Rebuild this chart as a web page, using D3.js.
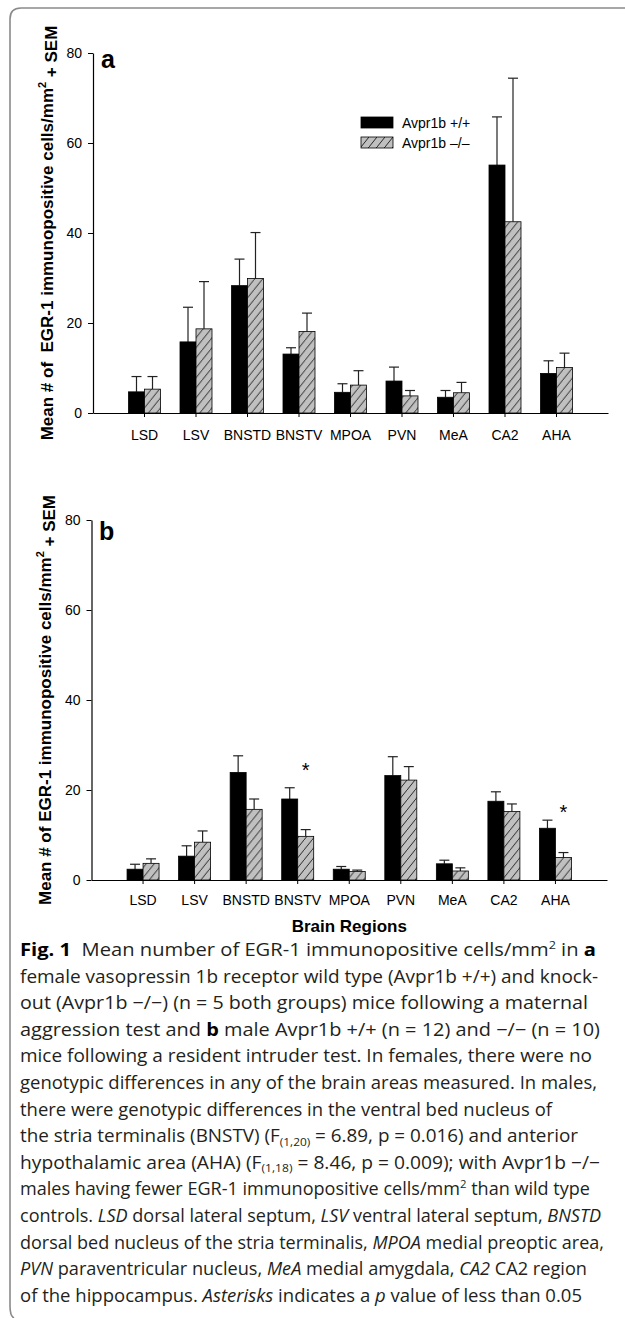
<!DOCTYPE html>
<html>
<head>
<meta charset="utf-8">
<script src="https://cdn.jsdelivr.net/npm/d3@7"></script>
<style>
  body { margin: 0; background: #fff; }
  svg { display: block; }
  .chart text { font-family: "Liberation Sans", Arial, sans-serif; fill: #000; }
  .caption text { font-family: "Open Sans", sans-serif; fill: #231f20; white-space: pre; }
</style>
</head>
<body>
<script>
// Brain regions on the x axis
const regions = ['LSD', 'LSV', 'BNSTD', 'BNSTV', 'MPOA', 'PVN', 'MeA', 'CA2', 'AHA'];
const yTicks = [0, 20, 40, 60, 80];
const seriesNames = ['Avpr1b +/+', 'Avpr1b \u2013/\u2013'];

// Panel a: females (mean and SEM)
const femaleWT = [4.7, 15.8, 28.3, 13.1, 4.6, 7.1, 3.5, 55.1, 8.8];
const femaleWTsem = [3.4, 7.7, 5.9, 1.4, 1.9, 3.1, 1.5, 10.7, 2.8];
const femaleKO = [5.3, 18.7, 29.9, 18.1, 6.2, 3.8, 4.5, 42.5, 10.1];
const femaleKOsem = [2.8, 10.5, 10.2, 4.1, 3.2, 1.2, 2.3, 31.9, 3.2];

// Panel b: males (mean and SEM)
const maleWT = [2.4, 5.3, 23.9, 18.0, 2.4, 23.2, 3.6, 17.5, 11.5];
const maleWTsem = [1.1, 2.3, 3.7, 2.5, 0.6, 4.2, 0.8, 2.1, 1.8];
const maleKO = [3.7, 8.4, 15.7, 9.7, 1.9, 22.2, 2.0, 15.2, 5.0];
const maleKOsem = [1.0, 2.5, 2.3, 1.5, 0.3, 3.0, 0.7, 1.7, 1.1];

// Significant differences in panel b (asterisk height in data units)
const sigRegions = ['BNSTV', 'AHA'];
const sigLevels = [25.3, 16.1];

const svg = d3.select('body').append('svg')
  .attr('width', 625)
  .attr('height', 1318);

// hatch pattern for the knockout bars
const pat = svg.append('defs').append('pattern')
  .attr('id', 'hatch')
  .attr('patternUnits', 'userSpaceOnUse')
  .attr('width', 8)
  .attr('height', 10);
pat.append('rect').attr('width', 8).attr('height', 10).attr('fill', '#c0c0c0');
pat.append('path')
  .attr('d', 'M-2,12.5 L10,-2.5')
  .attr('stroke', '#000')
  .attr('stroke-width', 0.8);

// frame around the figure
svg.append('path')
  .attr('d', 'M625,8 L21,8 Q10,8 10,19 L10,1306 Q10,1316 14,1318')
  .attr('fill', 'none')
  .attr('stroke', '#8a8a8a')
  .attr('stroke-width', 1.6);

const chart = svg.append('g').attr('class', 'chart');

function drawPanel(cfg) {
  const g = chart.append('g');

  const x = d3.scaleBand()
    .domain(regions)
    .range([cfg.left, cfg.right])
    .paddingInner(0)
    .paddingOuter(0.5);
  const sub = d3.scaleBand()
    .domain([0, 1])
    .range([(x.bandwidth() - 32) / 2, (x.bandwidth() + 32) / 2]);
  const y = d3.scaleLinear().domain([0, 80]).range([cfg.zero, cfg.top]);

  const rows = regions.map((r, i) => ({
    region: r,
    vals: [
      { k: 0, mean: cfg.wt[i], sem: cfg.wtSem[i] },
      { k: 1, mean: cfg.ko[i], sem: cfg.koSem[i] },
    ],
  }));

  const groups = g.selectAll('.grp')
    .data(rows)
    .enter()
    .append('g')
    .attr('transform', (d) => `translate(${x(d.region)},0)`);

  const bars = groups.selectAll('.bar')
    .data((d) => d.vals)
    .enter()
    .append('g');

  // error bars (upper half only)
  bars.append('line')
    .attr('x1', (d) => sub(d.k) + sub.bandwidth() / 2)
    .attr('x2', (d) => sub(d.k) + sub.bandwidth() / 2)
    .attr('y1', (d) => y(d.mean))
    .attr('y2', (d) => y(d.mean + d.sem))
    .attr('stroke', '#222')
    .attr('stroke-width', 1.2);
  bars.append('line')
    .attr('x1', (d) => sub(d.k) + sub.bandwidth() / 2 - 5)
    .attr('x2', (d) => sub(d.k) + sub.bandwidth() / 2 + 5)
    .attr('y1', (d) => y(d.mean + d.sem))
    .attr('y2', (d) => y(d.mean + d.sem))
    .attr('stroke', '#222')
    .attr('stroke-width', 1.2);

  bars.append('rect')
    .attr('x', (d) => sub(d.k))
    .attr('y', (d) => y(d.mean))
    .attr('width', sub.bandwidth())
    .attr('height', (d) => y(0) - y(d.mean))
    .attr('fill', (d) => (d.k === 0 ? '#000' : 'url(#hatch)'))
    .attr('stroke', '#000')
    .attr('stroke-width', 0.8);

  // axes
  const yAxis = g.append('g')
    .attr('transform', `translate(${cfg.left},0)`)
    .call(d3.axisLeft(y).tickValues(yTicks).tickSize(5).tickPadding(6).tickSizeOuter(0));
  const xAxis = g.append('g')
    .attr('transform', `translate(0,${cfg.zero})`)
    .call(d3.axisBottom(x).tickSize(4).tickPadding(cfg.xPad).tickSizeOuter(0));
  [yAxis, xAxis].forEach((a) => {
    a.selectAll('text').style('font-size', '14px').style('font-family', '"Liberation Sans", Arial, sans-serif');
    a.select('.domain').attr('stroke', '#000').attr('stroke-width', 1.2);
    a.selectAll('.tick line').attr('stroke', '#000');
  });

  // panel letter
  g.append('text')
    .attr('x', cfg.letterX)
    .attr('y', cfg.letterY)
    .style('font-size', '25px')
    .style('font-weight', 'bold')
    .text(cfg.letter);

  // y axis title
  const yt = g.append('text')
    .attr('transform', `translate(${cfg.titleX},${(cfg.zero + cfg.top) / 2}) rotate(-90)`)
    .attr('text-anchor', 'middle')
    .style('font-size', '17px')
    .style('font-weight', 'bold')
    .style('white-space', 'pre');
  yt.append('tspan').text(cfg.titleText);
  yt.append('tspan').attr('dy', '-0.6em').style('font-size', '11px').text('2');
  yt.append('tspan').attr('dy', '0.6em').text(' + SEM');

  return { g, x, y, sub };
}

const pa = drawPanel({
  left: 93, right: 608, top: 53, zero: 413, xPad: 13,
  wt: femaleWT, wtSem: femaleWTsem, ko: femaleKO, koSem: femaleKOsem,
  letter: 'a', letterX: 101, letterY: 68, titleX: 53,
  titleText: 'Mean # of  EGR-1 immunopositive cells/mm',
});

const pb = drawPanel({
  left: 91.5, right: 607, top: 520, zero: 880, xPad: 11,
  wt: maleWT, wtSem: maleWTsem, ko: maleKO, koSem: maleKOsem,
  letter: 'b', letterX: 99, letterY: 540, titleX: 51,
  titleText: 'Mean # of EGR-1 immunopositive cells/mm',
});

// legend (panel a)
const legend = chart.append('g').attr('transform', 'translate(361,117)');
seriesNames.forEach((name, i) => {
  legend.append('rect')
    .attr('x', 0)
    .attr('y', i * 20)
    .attr('width', 32)
    .attr('height', 11)
    .attr('fill', i === 0 ? '#000' : 'url(#hatch)')
    .attr('stroke', '#000')
    .attr('stroke-width', 0.8);
  legend.append('text')
    .attr('x', 41)
    .attr('y', i * 20 + 11)
    .style('font-size', '14px')
    .text(name);
});

// asterisks (panel b)
sigRegions.forEach((r, i) => {
  chart.append('text')
    .attr('x', pb.x(r) + pb.sub(1) + pb.sub.bandwidth() / 2)
    .attr('y', pb.y(sigLevels[i]) + 11)
    .attr('text-anchor', 'middle')
    .style('font-size', '20px')
    .text('*');
});

// x axis title
chart.append('text')
  .attr('x', (91.5 + 607) / 2)
  .attr('y', 932)
  .attr('text-anchor', 'middle')
  .style('font-size', '17px')
  .style('font-weight', 'bold')
  .text('Brain Regions');

// caption: segments per line and the right edge where each line ends
const captionLines = [
  [['b', 'Fig. 1'], ['', '  Mean number of EGR-1 immunopositive cells/mm'], ['sup', '2'], ['', ' in '], ['b', 'a']],
  [['', 'female vasopressin 1b receptor wild type (Avpr1b +/+) and knock-']],
  [['', 'out (Avpr1b \u2212/\u2212) (n = 5 both groups) mice following a maternal']],
  [['', 'aggression test and '], ['b', 'b'], ['', ' male Avpr1b +/+ (n = 12) and \u2212/\u2212 (n = 10)']],
  [['', 'mice following a resident intruder test. In females, there were no']],
  [['', 'genotypic differences in any of the brain areas measured. In males,']],
  [['', 'there were genotypic differences in the ventral bed nucleus of']],
  [['', 'the stria terminalis (BNSTV) (F'], ['sub', '(1,20)'], ['', ' = 6.89, p = 0.016) and anterior']],
  [['', 'hypothalamic area (AHA) (F'], ['sub', '(1,18)'], ['', ' = 8.46, p = 0.009); with Avpr1b \u2212/\u2212']],
  [['', 'males having fewer EGR-1 immunopositive cells/mm'], ['sup', '2'], ['', ' than wild type']],
  [['', 'controls. '], ['i', 'LSD'], ['', ' dorsal lateral septum, '], ['i', 'LSV'], ['', ' ventral lateral septum, '], ['i', 'BNSTD']],
  [['', 'dorsal bed nucleus of the stria terminalis, '], ['i', 'MPOA'], ['', ' medial preoptic area,']],
  [['i', 'PVN'], ['', ' paraventricular nucleus, '], ['i', 'MeA'], ['', ' medial amygdala, '], ['i', 'CA2'], ['', ' CA2 region']],
  [['', 'of the hippocampus. '], ['i', 'Asterisks'], ['', ' indicates a '], ['i', 'p'], ['', ' value of less than 0.05']],
];
const captionEnds = [596, 598, 588, 600, 592, 597, 552, 578, 600, 590, 601, 604, 587, 582];

const caption = svg.append('g').attr('class', 'caption');
captionLines.forEach((segs, li) => {
  const t = caption.append('text')
    .attr('x', 20)
    .attr('y', 956 + li * 26.6)
    .attr('textLength', captionEnds[li] - 20)
    .attr('lengthAdjust', 'spacingAndGlyphs')
    .style('font-size', '17.5px');
  let shift = 0;
  segs.forEach(([kind, str]) => {
    const ts = t.append('tspan').text(str);
    let target = 0;
    if (kind === 'b') ts.style('font-weight', 'bold').style('fill', '#000');
    if (kind === 'i') ts.style('font-style', 'italic');
    if (kind === 'sup') { ts.style('font-size', '11px'); target = -7; }
    if (kind === 'sub') { ts.style('font-size', '11px'); target = 3.5; }
    if (target !== shift) { ts.attr('dy', target - shift); shift = target; }
  });
});
</script>
</body>
</html>
